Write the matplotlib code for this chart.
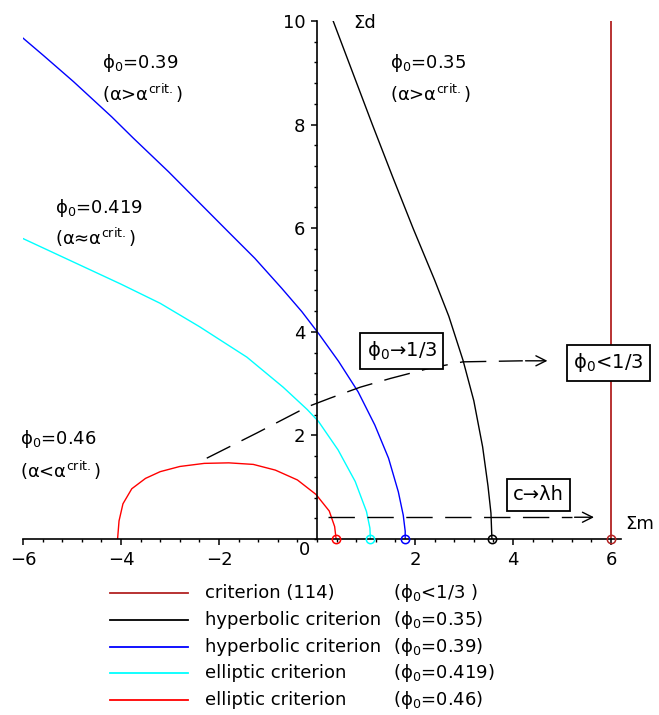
import matplotlib
matplotlib.use("Agg")
import matplotlib.pyplot as plt
from matplotlib.ticker import MultipleLocator
from matplotlib.lines import Line2D

plt.rcParams["font.family"] = "DejaVu Sans"
plt.rcParams["mathtext.fontset"] = "dejavusans"
plt.rcParams["font.size"] = 13

# criterion curves in the (Sigma m, Sigma d) plane
crit114_x = [6.0, 6.0]
crit114_y = [0.0, 10.0]

hyp035_x = [0.33, 0.73, 1.13, 1.54, 1.96, 2.40, 2.69, 2.98, 3.20, 3.38, 3.49, 3.55, 3.57]
hyp035_y = [10.0, 9.0, 8.0, 7.0, 6.0, 5.0, 4.30, 3.45, 2.67, 1.78, 1.02, 0.50, 0.0]

hyp039_x = [-6.0, -5.59, -4.97, -4.19, -3.75, -3.03, -1.81, -1.27, -0.72, -0.31, 0.03,
            0.44, 0.84, 1.18, 1.46, 1.66, 1.76, 1.80, 1.80]
hyp039_y = [9.67, 9.34, 8.83, 8.15, 7.74, 7.09, 5.93, 5.42, 4.84, 4.39, 3.97,
            3.43, 2.84, 2.20, 1.56, 0.91, 0.46, 0.15, 0.0]

ell0419_x = [-6.0, -5.0, -4.0, -3.20, -2.40, -1.43, -0.69, -0.20, 0.03, 0.43, 0.78, 1.01, 1.08, 1.09]
ell0419_y = [5.80, 5.36, 4.92, 4.55, 4.10, 3.51, 2.93, 2.50, 2.27, 1.72, 1.11, 0.53, 0.21, 0.0]

ell046_x = [-4.07, -4.04, -3.96, -3.78, -3.50, -3.20, -2.80, -2.30, -1.80, -1.30,
            -0.85, -0.40, -0.02, 0.25, 0.36, 0.39]
ell046_y = [0.0, 0.35, 0.68, 0.97, 1.17, 1.30, 1.40, 1.46, 1.47, 1.44,
            1.33, 1.14, 0.86, 0.54, 0.24, 0.0]

# dashed paths showing the limits
limit_third_x = [-2.25, -1.22, -0.20, 0.27, 0.88, 1.50, 2.31, 2.98, 4.76]
limit_third_y = [1.56, 2.05, 2.55, 2.72, 2.93, 3.10, 3.30, 3.42, 3.44]
limit_lh_x = [0.22, 5.71]
limit_lh_y = [0.42, 0.42]

roots_x = [0.39, 1.09, 1.80, 3.57, 6.0]

colors = ["#b22222", "black", "blue", "cyan", "red"]
legend_names = ["criterion (114)", "hyperbolic criterion", "hyperbolic criterion",
                "elliptic criterion", "elliptic criterion"]
legend_params = [r"(ϕ$_0$<1/3 )", r"(ϕ$_0$=0.35)", r"(ϕ$_0$=0.39)",
                 r"(ϕ$_0$=0.419)", r"(ϕ$_0$=0.46)"]

fig = plt.figure(figsize=(6.59, 7.15), dpi=100)
ax = fig.add_axes([23 / 659, 176 / 715, 597.8 / 659, 518 / 715])
ax.set_xlim(-6, 6.2)
ax.set_ylim(0, 10)

lw = 1.0
ax.plot(crit114_x, crit114_y, color=colors[0], lw=1.3)
ax.plot(hyp035_x, hyp035_y, color=colors[1], lw=lw)
ax.plot(hyp039_x, hyp039_y, color=colors[2], lw=lw)
ax.plot(ell0419_x, ell0419_y, color=colors[3], lw=lw)
ax.plot(ell046_x, ell046_y, color=colors[4], lw=lw)

root_colors = ["red", "cyan", "blue", "black", "#b22222"]
for rx, c in zip(roots_x, root_colors):
    ax.plot([rx], [0], marker="o", ms=6, mfc="none", mec=c, mew=1.1,
            clip_on=False, zorder=5)

dash = (0, (19, 9))
ax.plot(limit_third_x[:-1] + [4.2], limit_third_y[:-1] + [limit_third_y[-1]],
        color="black", lw=lw, ls=dash)
ax.annotate("", xy=(limit_third_x[-1], limit_third_y[-1]), xytext=(4.2, limit_third_y[-1]),
            arrowprops=dict(arrowstyle="->", color="black", lw=lw, mutation_scale=18))
ax.plot([limit_lh_x[0], 5.2], limit_lh_y, color="black", lw=lw, ls=dash)
ax.annotate("", xy=(limit_lh_x[1], limit_lh_y[1]), xytext=(5.2, limit_lh_y[0]),
            arrowprops=dict(arrowstyle="->", color="black", lw=lw, mutation_scale=18))

# boxed annotations
box = dict(boxstyle="square,pad=0.32", fc="white", ec="black", lw=1.3)
ax.text(1.73, 3.63, r"ϕ$_0$→1/3", ha="center", va="center", bbox=box, zorder=6, fontsize=14)
ax.text(5.94, 3.40, r"ϕ$_0$<1/3", ha="center", va="center", bbox=box, zorder=6, fontsize=14)
ax.text(4.52, 0.85, "c→λh", ha="center", va="center", bbox=box, zorder=6, fontsize=14)

# curve labels
ax.text(-4.39, 9.19, r"ϕ$_0$=0.39", va="center")
ax.text(-4.39, 8.61, r"(α>α$^{\rm crit.}$)", va="center")
ax.text(-5.35, 6.39, r"ϕ$_0$=0.419", va="center")
ax.text(-5.35, 5.83, r"(α≈α$^{\rm crit.}$)", va="center")
ax.text(1.49, 9.19, r"ϕ$_0$=0.35", va="center")
ax.text(1.49, 8.61, r"(α>α$^{\rm crit.}$)", va="center")
ax.text(-6.06, 1.93, r"ϕ$_0$=0.46", va="center")
ax.text(-6.06, 1.33, r"(α<α$^{\rm crit.}$)", va="center")
ax.text(0.73, 9.96, "Σd", va="center")
ax.text(6.29, 0.29, "Σm", va="center")
ax.text(-0.14, -0.21, "0", ha="right", va="center")

# axes through the origin
for side in ["top", "right"]:
    ax.spines[side].set_visible(False)
ax.spines["left"].set_position(("data", 0))
ax.spines["bottom"].set_position(("data", 0))
ax.spines["left"].set_linewidth(1.2)
ax.spines["bottom"].set_linewidth(1.2)
ax.set_xticks([-6, -4, -2, 2, 4, 6])
ax.set_yticks([2, 4, 6, 8, 10])
ax.xaxis.set_minor_locator(MultipleLocator(0.4))
ax.yaxis.set_minor_locator(MultipleLocator(0.4))
ax.tick_params(which="major", direction="out", length=4.5, width=1.1, pad=4, labelsize=13)
ax.tick_params(which="minor", direction="out", length=2, width=1.0)
ax.set_facecolor("none")

# legend rows below the plot
for i, (c, name, par) in enumerate(zip(colors, legend_names, legend_params)):
    yrow = 1 - (593 + 26.8 * i) / 715
    fig.add_artist(Line2D([110 / 659, 188 / 659], [yrow, yrow], color=c, lw=1.3))
    fig.text(205 / 659, yrow, name, va="center", fontsize=13)
    fig.text(393 / 659, yrow, par, va="center", fontsize=13)

fig.savefig("out.png", dpi=100)
